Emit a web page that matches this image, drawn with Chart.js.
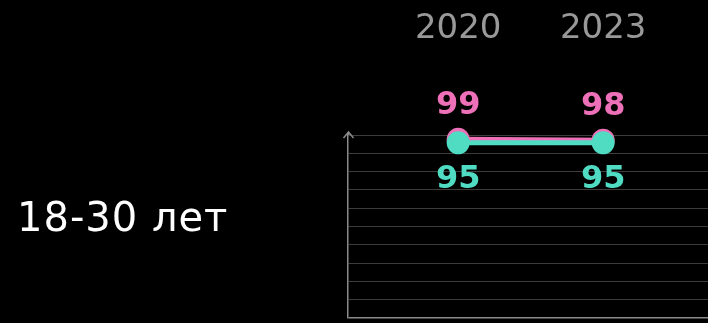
<!DOCTYPE html>
<html>
<head>
<meta charset="utf-8">
<script src="https://cdn.jsdelivr.net/npm/chart.js@4"></script>
<style>
  html, body { margin: 0; padding: 0; background: #000; }
  #wrap { position: relative; width: 708px; height: 323px; }
  #group { position: absolute; left: 17px; top: 193px; color: #fff;
    font: 400 40px "DejaVu Sans", sans-serif; line-height: 48px; letter-spacing: 1px; white-space: nowrap; }
</style>
</head>
<body>
<div id="wrap">
  <div id="group">18-30 лет</div>
  <canvas id="chart" width="708" height="323"></canvas>
</div>
<script>
var years = [2020, 2023];
var pinkValues = [99, 98];
var tealValues = [95, 95];
var PINK = "#ee70b8",
  TEAL = "#4fdcc3";

function toPoints(vals) {
  return vals.map(function (v, i) { return { x: years[i], y: v }; });
}

var valueLabels = {
  id: "valueLabels",
  afterDatasetsDraw: function (chart) {
    var ctx = chart.ctx;
    ctx.save();
    ctx.font = "bold 32px 'DejaVu Sans', sans-serif";
    ctx.textAlign = "center";
    ctx.textBaseline = "middle";
    chart.data.datasets.forEach(function (ds, i) {
      var meta = chart.getDatasetMeta(i);
      meta.data.forEach(function (pt, j) {
        ctx.fillStyle = ds.borderColor;
        ctx.fillText(String(ds.data[j].y), pt.x, pt.y + ds.labelShift);
      });
    });
    ctx.restore();
  },
};

var axisArrow = {
  id: "axisArrow",
  afterDraw: function (chart) {
    var a = chart.chartArea,
      ctx = chart.ctx,
      x = a.left + 0.5;
    ctx.save();
    ctx.strokeStyle = "#8a8a8a";
    ctx.lineWidth = 1.5;
    ctx.beginPath();
    ctx.moveTo(x, a.top);
    ctx.lineTo(x, a.top - 3);
    ctx.moveTo(x - 5, a.top + 3);
    ctx.lineTo(x, a.top - 3);
    ctx.lineTo(x + 5, a.top + 3);
    ctx.stroke();
    ctx.restore();
  },
};

new Chart(document.getElementById("chart"), {
  type: "line",
  data: {
    datasets: [
      {
        label: "pink",
        data: toPoints(pinkValues),
        borderColor: PINK,
        backgroundColor: PINK,
        borderWidth: 5,
        pointRadius: 11.5,
        pointBorderWidth: 0,
        order: 1,
        clip: false,
        labelShift: -34,
      },
      {
        label: "teal",
        data: toPoints(tealValues),
        borderColor: TEAL,
        backgroundColor: TEAL,
        borderWidth: 5,
        pointRadius: 11.5,
        pointBorderWidth: 0,
        order: 0,
        clip: false,
        labelShift: 37,
      },
    ],
  },
  options: {
    responsive: false,
    animation: false,
    layout: { autoPadding: false, padding: { left: 348, top: 8, right: 0, bottom: 5 } },
    plugins: { legend: { display: false }, tooltip: { enabled: false } },
    scales: {
      x: {
        type: "linear",
        position: "top",
        min: 2017.72,
        max: 2025.17,
        afterBuildTicks: function (s) {
          s.ticks = years.map(function (v) { return { value: v }; });
        },
        afterFit: function (s) {
          s.paddingLeft = 0;
          s.paddingRight = 0;
          s.height = 127;
        },
        ticks: {
          color: "#999999",
          padding: 85,
          maxRotation: 0,
          font: { family: "'DejaVu Sans', sans-serif", size: 34 },
          callback: function (v) { return String(v); },
        },
        grid: { display: false, drawTicks: false },
        border: { display: false },
      },
      y: {
        min: -106,
        max: 104,
        ticks: { display: false, stepSize: 21 },
        grid: {
          drawTicks: false,
          color: function (c) { return c.index === 0 ? "#8a8a8a" : "#3c3c3c"; },
          lineWidth: function (c) { return c.index === 0 ? 1.5 : 1; },
        },
        border: { color: "#8a8a8a", width: 1.5 },
      },
    },
  },
  plugins: [valueLabels, axisArrow],
});
</script>
</body>
</html>
